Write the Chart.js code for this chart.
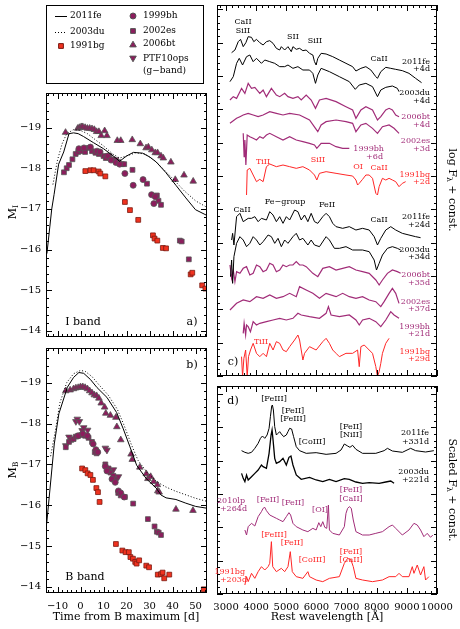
<!DOCTYPE html>
<html>
<head>
<meta charset="utf-8">
<script src="https://cdn.jsdelivr.net/npm/chart.js@4/dist/chart.umd.min.js"></script>
<style>
  body { margin: 0; background: #fff; }
  canvas { position: absolute; left: 0; top: 0; }
</style>
</head>
<body>
<canvas id="panelA" width="460" height="629"></canvas>
<canvas id="panelB" width="460" height="629"></canvas>
<canvas id="panelC" width="460" height="629"></canvas>
<canvas id="panelD" width="460" height="629"></canvas>
<script>
// ---------- light curves: [days from B max, absolute mag] ----------
const fe11_I = [[-14.6,-15.9],[-12.5,-17.0],[-11.5,-17.35],[-9.5,-18.1],[-7.3,-18.4],[-5,-18.85],[-3,-18.87],[-1,-18.85],[1.3,-18.78],[5.6,-18.63],[10,-18.48],[14.3,-18.3],[17,-18.17],[20,-18.3],[23,-18.39],[27,-18.37],[30,-18.28],[33,-18.15],[37,-17.9],[41.5,-17.58],[45.8,-17.27],[50,-16.98],[54.6,-16.85]];
const du03_I = [[-12,-17.6],[-10,-18.2],[-8,-18.6],[-6,-18.85],[-3,-18.95],[0,-18.93],[3,-18.85],[6,-18.72],[10,-18.55],[14,-18.35],[17,-18.25],[20,-18.3],[24,-18.38],[28,-18.35],[32,-18.2],[36,-17.98],[40,-17.75],[45,-17.45],[50,-17.2],[54.6,-17.05]];
const bg91_I = [[2.1,-17.93],[4.3,-17.95],[5.7,-17.95],[7.9,-17.92],[8.6,-17.87],[10.8,-17.8],[19.3,-17.17],[21.5,-16.97],[25.1,-16.73],[31.5,-16.35],[32.2,-16.27],[33.4,-16.22],[35.8,-16.04],[37.2,-16.03],[47.9,-15.39],[48.6,-15.43],[52.9,-15.12],[54.3,-15.04]];
const bh99_I = [[-0.7,-18.48],[1.5,-18.5],[4.3,-18.52],[7.2,-18.42],[8.5,-18.4],[11.8,-18.3],[13.3,-18.2],[15.4,-18.14],[17,-18.1],[19.3,-17.87],[22.9,-17.58],[27.2,-17.72],[30.9,-17.35],[31.9,-17.13],[32.5,-17.3]];
const es02_I = [[-7.2,-17.9],[-6,-18.0],[-5,-18.08],[-3.5,-18.22],[-2.1,-18.35],[-1,-18.4],[0.5,-18.42],[2,-18.4],[3.6,-18.5],[5,-18.42],[6.5,-18.38],[8,-18.35],[10,-18.3],[11,-18.25],[12.5,-18.3],[14,-18.22],[15.5,-18.2],[16.5,-18.15],[18,-18.1],[19,-18.1],[22.6,-17.96],[28.9,-17.62],[33.2,-17.33],[33.9,-17.2],[35,-17.1],[43.2,-16.22],[44,-16.2],[47.1,-15.76]];
const bt06_I = [[-6.5,-18.88],[-1.2,-18.98],[-0.5,-19.0],[0.3,-19.02],[1,-19.02],[2,-19.0],[3,-18.98],[4,-18.98],[5,-18.97],[6,-18.95],[7,-18.9],[8,-18.9],[9,-18.8],[10.5,-18.92],[11.5,-18.8],[16,-18.68],[17.5,-18.68],[22.5,-18.7],[26,-18.6],[28.5,-18.5],[29.5,-18.52],[31,-18.45],[32.5,-18.38],[33.5,-18.38],[35,-18.3],[36,-18.25],[39.3,-18.15],[41.2,-17.72],[45,-17.83],[49,-17.68]];

const fe11_B = [[-14.7,-15.55],[-11.4,-17.5],[-9.4,-18.24],[-5.7,-18.89],[-3,-19.13],[-0.7,-19.25],[1.4,-19.23],[4.3,-19.08],[7.2,-18.88],[11.5,-18.64],[15.7,-18.27],[18.6,-17.87],[21.5,-17.43],[24.4,-16.98],[28.6,-16.65],[32.9,-16.42],[35,-16.25],[37.2,-16.18],[41.5,-16.14],[45.8,-16.05],[50.1,-15.97],[54.6,-15.93]];
const du03_B = [[-13,-17.2],[-11,-17.8],[-9,-18.5],[-6,-19.0],[-3,-19.22],[0,-19.3],[2,-19.28],[5,-19.15],[8,-18.95],[12,-18.7],[16,-18.35],[19,-17.95],[22,-17.5],[25,-17.1],[29,-16.8],[33,-16.58],[37,-16.45],[41,-16.35],[46,-16.25],[50,-16.17],[54.6,-16.1]];
const bg91_B = [[0.7,-16.9],[2.1,-16.86],[3.1,-16.78],[4.3,-16.74],[5.4,-16.62],[6.9,-16.42],[7.6,-16.32],[8.3,-16.08],[15.4,-15.05],[18.2,-14.89],[19.6,-14.85],[21,-14.85],[21.7,-14.73],[22.8,-14.69],[23.8,-14.61],[24.4,-14.57],[25.5,-14.65],[28.6,-14.52],[29.8,-14.48],[33.6,-14.3],[35,-14.31],[35.7,-14.35],[36.4,-14.21],[38.6,-14.3],[53.6,-13.94]];
const bh99_B = [[-1,-17.7],[1,-17.75],[3,-17.7],[5.5,-17.5],[6.7,-17.36],[7.5,-17.3],[10.8,-16.95],[11.5,-16.84],[13.7,-16.64],[15.1,-16.56],[16.5,-16.35],[17.5,-16.3],[19,-16.2]];
const es02_B = [[-6.4,-17.42],[-5,-17.55],[-4,-17.6],[-3,-17.62],[-2,-17.68],[-1,-17.7],[0.5,-17.72],[2,-17.7],[3.5,-17.65],[5,-17.55],[6.2,-17.3],[7,-17.27],[10.8,-17.0],[12.2,-16.9],[13,-16.8],[14.3,-16.72],[16.4,-16.3],[17.5,-16.24],[19.3,-16.2],[22.9,-16.04],[29.3,-15.66],[32.2,-15.48],[33.2,-15.35],[34,-15.33],[35,-15.27]];
const bt06_B = [[-6.4,-18.8],[-4.5,-18.82],[-3,-18.85],[-2,-18.87],[-1,-18.88],[0,-18.9],[1,-18.9],[2,-18.88],[3,-18.85],[4,-18.8],[5,-18.75],[6,-18.7],[7,-18.68],[8,-18.62],[9,-18.5],[10.5,-18.4],[11,-18.25],[13,-18.2],[15.4,-18.15],[15.8,-17.92],[17.5,-17.6],[22,-17.25],[22.5,-17.12],[25.8,-16.93],[28.6,-16.77],[29.3,-16.65],[30.5,-16.7],[31.8,-16.58],[33.4,-16.5],[33.6,-16.35],[34.2,-16.32],[41.5,-15.9],[48.9,-15.87]];
const ops10_g = [[-6.4,-17.46],[-5,-17.67],[-2,-18.05],[-1.4,-18.11],[-0.5,-18.05],[0.7,-17.83],[1.4,-17.9],[3.1,-17.84],[10.8,-17.4],[11.5,-17.35],[14.3,-16.87],[15.7,-16.65],[16.5,-16.7]];

// ---------- spectra: [rest wavelength (A), log flux (arbitrary)] ----------
const s_fe11_4 = [[3185,42],[3295,50],[3405,75],[3482,82],[3570,60],[3658,72],[3735,90],[3845,88],[3922,75],[4010,82],[4120,72],[4230,65],[4340,75],[4450,78],[4560,70],[4670,55],[4780,50],[4835,60],[4945,50],[5055,60],[5165,45],[5220,60],[5330,52],[5440,55],[5550,48],[5660,50],[5770,40],[5880,35],[5935,15],[5990,5],[6045,25],[6155,40],[6320,38],[6540,30],[6760,20],[6980,10],[7200,0],[7310,-13],[7475,-5],[7640,0],[7805,-10],[7970,-30],[8025,-35],[8135,-15],[8300,-2],[8465,-5],[8630,-8],[8850,-12],[9070,-20],[9290,-35],[9488,-48]];
const s_du03_4 = [[3130,25],[3240,40],[3350,80],[3438,95],[3548,75],[3680,100],[3790,105],[3900,85],[4010,95],[4175,80],[4285,90],[4450,85],[4615,80],[4780,70],[4945,70],[5055,75],[5220,65],[5385,70],[5550,60],[5770,60],[5880,50],[5968,20],[6045,45],[6155,65],[6430,55],[6760,40],[7090,25],[7288,2],[7420,15],[7640,20],[7860,10],[8025,-20],[8135,0],[8300,8],[8520,12],[8685,5],[8740,-5]];
const s_bt06_4 = [[3130,30],[3240,40],[3350,35],[3460,55],[3515,65],[3625,50],[3735,80],[3845,65],[3955,68],[4120,50],[4230,60],[4340,40],[4505,65],[4670,45],[4780,40],[4945,50],[5055,40],[5220,35],[5385,40],[5495,30],[5660,45],[5825,30],[5968,5],[6100,30],[6320,35],[6650,25],[6980,10],[7200,0],[7310,-25],[7475,0],[7640,10],[7860,0],[8025,-30],[8135,-20],[8300,0],[8410,5],[8520,0],[8630,-15],[8740,-20]];
const s_es02_3 = [[3130,20],[3350,35],[3460,40],[3570,45],[3735,50],[3900,45],[4065,40],[4230,45],[4450,55],[4670,50],[4890,45],[5110,50],[5440,45],[5770,30],[5968,5],[6045,-5],[6155,15],[6320,25],[6650,30],[6980,25],[7200,20],[7310,-5],[7475,15],[7640,20],[7860,5],[8025,-10],[8190,10],[8410,15],[8575,5],[8740,-10]];
const s_bh99_6 = [[3570,30],[3600,-40],[3625,10],[3658,-65],[3702,25],[3790,20],[3900,15],[4010,10],[4120,20],[4230,15],[4340,25],[4450,30],[4670,20],[4890,10],[5110,20],[5330,10],[5550,5],[5770,0],[5935,-5],[6012,-15],[6155,0],[6430,0],[6650,-10],[6870,-15],[7090,-15]];
const s_bg91_2 = [[3680,-45],[3702,30],[3790,35],[3900,15],[4010,-5],[4120,2],[4230,-5],[4340,40],[4450,48],[4670,40],[4890,45],[5110,40],[5330,35],[5550,40],[5770,30],[5935,15],[6012,0],[6100,20],[6320,25],[6650,20],[6980,15],[7200,12],[7310,0],[7365,-15],[7420,-10],[7530,2],[7640,15],[7750,15],[7860,5],[7970,-40],[8025,-45],[8080,-20],[8190,5],[8300,0],[8410,5],[8520,0],[8630,-5],[8740,-20],[8850,-10],[8960,-5]];
const s_fe11_24 = [[3185,-30],[3218,-10],[3262,-45],[3350,40],[3460,50],[3570,25],[3735,35],[3845,35],[3955,40],[4065,25],[4175,35],[4340,30],[4450,55],[4560,45],[4670,25],[4780,40],[4890,20],[5000,40],[5110,30],[5275,60],[5385,55],[5495,30],[5605,45],[5715,25],[5825,50],[5935,25],[6045,20],[6210,40],[6320,50],[6430,40],[6540,20],[6650,10],[6870,5],[7090,10],[7310,0],[7530,5],[7750,0],[7915,-20],[8025,-45],[8135,-25],[8300,0],[8465,10],[8630,0],[8850,-10],[9070,-15],[9290,-20],[9455,-23]];
const s_du03_34 = [[3150,-80],[3185,-30],[3218,-100],[3262,-20],[3350,20],[3460,40],[3570,30],[3680,10],[3790,20],[3900,40],[4010,30],[4120,15],[4230,25],[4395,45],[4505,40],[4615,20],[4725,35],[4835,10],[4945,30],[5055,20],[5220,40],[5330,50],[5440,30],[5550,35],[5715,15],[5825,30],[5935,15],[6100,10],[6320,40],[6430,30],[6595,5],[6760,5],[6980,10],[7200,0],[7530,0],[7750,-5],[7915,-30],[7992,-60],[8080,-40],[8190,-15],[8355,5],[8520,10],[8685,5],[8795,0]];
const s_bt06_35 = [[3130,25],[3185,-15],[3240,10],[3295,-25],[3350,5],[3460,0],[3570,15],[3680,20],[3790,-5],[3900,0],[4010,25],[4120,20],[4230,5],[4340,10],[4450,30],[4560,25],[4670,5],[4780,10],[4890,25],[5000,20],[5110,25],[5220,25],[5330,35],[5440,25],[5550,25],[5660,20],[5880,0],[6045,-10],[6210,15],[6430,20],[6650,10],[6870,15],[7090,20],[7310,10],[7530,5],[7750,0],[7970,-20],[8080,-35],[8190,-20],[8355,0],[8520,10],[8685,5],[8795,0]];
const s_es02_37 = [[3130,-30],[3350,-10],[3570,0],[3790,-5],[4010,10],[4230,5],[4450,15],[4670,5],[4890,10],[5110,20],[5330,10],[5440,40],[5660,30],[5880,20],[6100,5],[6320,20],[6650,10],[6870,20],[7090,10],[7310,5],[7530,10],[7750,0],[7970,-5],[8135,-20],[8245,-5],[8410,20],[8520,35],[8630,20],[8740,-10]];
const s_bh99_21 = [[3570,-40],[3600,-10],[3650,-45],[3680,-15],[3735,-20],[3810,-35],[3900,-5],[4010,-15],[4120,-10],[4340,-5],[4560,0],[4780,5],[5000,0],[5220,5],[5385,20],[5495,15],[5770,10],[6100,5],[6320,20],[6397,40],[6485,15],[6760,10],[7090,15],[7310,0],[7420,-15],[7530,0],[7750,5],[7970,-5],[8135,-20],[8300,0],[8465,25],[8575,15],[8740,5]];
const s_bg91_29 = [[3515,-20],[3548,-80],[3592,-25],[3650,0],[3702,-80],[3746,-20],[3812,0],[3900,20],[4010,-10],[4120,-20],[4230,-10],[4340,-20],[4450,20],[4560,0],[4670,25],[4780,20],[4890,0],[5000,-5],[5110,10],[5275,30],[5385,45],[5440,30],[5550,-30],[5605,-10],[5770,10],[5990,0],[6210,25],[6320,35],[6430,20],[6540,0],[6650,-10],[6760,-20],[6980,-10],[7200,-10],[7365,0],[7420,-50],[7475,10],[7585,15],[7750,0],[7860,-10],[7970,-50],[8025,-80],[8080,-65],[8135,-40],[8190,-10],[8300,20],[8410,35]];

// nebular spectra: [rest wavelength (A), scaled flux]
const n_fe11_331 = [[3515,8],[3625,3],[3735,0],[3845,3],[3955,15],[4065,30],[4142,45],[4208,52],[4285,45],[4362,55],[4428,75],[4472,110],[4516,142],[4538,145],[4571,130],[4615,80],[4670,55],[4725,60],[4780,65],[4835,58],[4912,50],[5000,55],[5055,65],[5110,75],[5176,73],[5242,50],[5330,20],[5440,8],[5660,0],[5990,2],[6320,-3],[6650,0],[6815,10],[6925,28],[7035,22],[7112,18],[7200,24],[7310,12],[7530,0],[7970,0],[8245,8],[8355,15],[8520,7],[8850,3],[9125,15],[9290,8],[9620,4],[9895,8]];
const n_du03_221 = [[3515,20],[3570,5],[3625,-5],[3680,15],[3735,0],[3845,10],[3955,20],[4065,30],[4175,45],[4230,40],[4340,35],[4428,80],[4494,135],[4527,150],[4560,120],[4615,65],[4670,50],[4780,55],[4890,65],[5000,45],[5088,68],[5154,72],[5220,45],[5330,15],[5495,2],[5770,8],[5990,0],[6210,-5],[6430,2],[6650,-5],[6925,4],[7090,2],[7310,-6],[7530,-10],[7750,-8],[8080,-10],[8300,-6],[8465,-3],[8575,-10]];
const n_lp10_264 = [[3625,0],[3680,-15],[3735,10],[3845,20],[3955,12],[4065,40],[4175,55],[4230,65],[4285,68],[4340,58],[4450,45],[4560,40],[4670,35],[4780,30],[4890,25],[5000,40],[5088,52],[5143,45],[5220,20],[5330,10],[5550,0],[5715,-5],[5880,5],[5990,0],[6078,22],[6144,10],[6210,25],[6276,8],[6342,5],[6397,75],[6430,0],[6540,-10],[6760,-15],[6925,10],[6980,50],[7035,65],[7090,70],[7156,65],[7222,30],[7310,-5],[7530,-15],[7750,-15],[7970,-10],[8190,-5],[8410,10],[8520,15],[8630,5],[8850,-15],[9070,0],[9235,20],[9345,15],[9455,0],[9565,-20],[9675,-10],[9785,-22],[9862,-15]];
const n_bg91_203 = [[3625,-25],[3680,0],[3735,-15],[3845,10],[3955,-5],[4065,15],[4175,30],[4285,20],[4395,30],[4450,40],[4505,105],[4549,30],[4670,15],[4835,25],[4945,15],[5055,30],[5132,75],[5198,15],[5330,0],[5550,-5],[5715,15],[5770,0],[5990,-10],[6210,-15],[6430,-5],[6760,0],[6925,40],[7035,55],[7145,50],[7222,30],[7310,-5],[7530,-10],[7860,-15],[8190,-10],[8410,0],[8630,0],[8740,10],[8850,0],[9070,0],[9180,30],[9235,10],[9345,35],[9455,5],[9565,30],[9620,-10],[9730,0]];

// vertical constants added to each spectrum (same order as drawn, top to bottom)
const constC = [928, 858, 798, 738, 698, 588, 438, 378, 308, 228, 168, 78];
const constD = [422, 342, 192, 52];

// ---------- styling ----------
const WORD = '"DejaVu Serif", serif';
const BLACK = '#000000', PURPLE = '#a12c78', RED = '#ff2626';
const M_PURPLE = '#8c1d5d', M_RED = '#f0321f';

const pts = arr => arr.map(([x, y]) => ({ x, y }));
const shifted = (arr, c) => arr.map(([x, y]) => ({ x, y: y + c }));

function curve(data, dash) {
  return { data: pts(data), showLine: true, borderColor: BLACK, borderWidth: 1,
           borderDash: dash || [], pointRadius: 0, tension: 0, order: 0 };
}
function marks(data, style, fill, edge, r, rot) {
  return { data: pts(data), showLine: false, pointStyle: style, pointRadius: r,
           rotation: rot || 0, backgroundColor: fill, borderColor: edge, borderWidth: 0.8, order: 1 };
}
function spec(data, c, color, w) {
  return { data: shifted(data, c), showLine: true, borderColor: color, borderWidth: w || 1,
           pointRadius: 0, tension: 0 };
}

function steps(min, max, step) {
  const out = [];
  for (let i = Math.ceil(min / step - 1e-9); i * step <= max + 1e-9; i++) out.push(+(i * step).toFixed(6));
  return out;
}
const isMult = (v, m) => Math.abs(v / m - Math.round(v / m)) < 1e-6;
const fmt = v => (v < 0 ? '\u2212' + (-v) : String(v));

function drawRich(ctx, parts, x, y, size, rot, align) {
  ctx.save();
  ctx.translate(x, y);
  ctx.rotate(rot || 0);
  let total = 0;
  const ws = parts.map(([t, sub]) => {
    ctx.font = (sub ? size * 0.7 : size) + 'px ' + WORD;
    const w = ctx.measureText(t).width; total += w; return w;
  });
  let cx = align === 'left' ? 0 : align === 'right' ? -total : -total / 2;
  ctx.textBaseline = 'middle';
  ctx.textAlign = 'left';
  parts.forEach(([t, sub], i) => {
    ctx.font = (sub ? size * 0.7 : size) + 'px ' + WORD;
    ctx.fillText(t, cx, sub ? size * 0.3 : 0);
    cx += ws[i];
  });
  ctx.restore();
}

function makeFrame(f) {
  return {
    id: 'frame',
    afterDatasetsDraw(chart) {
      const { ctx, chartArea: a } = chart;
      const x = chart.scales.x, y = chart.scales.y;
      ctx.save();
      ctx.strokeStyle = BLACK;
      ctx.lineWidth = 1;
      ctx.strokeRect(a.left + 0.5, a.top + 0.5, a.right - a.left - 1, a.bottom - a.top - 1);
      ctx.beginPath();
      steps(x.min, x.max, f.xMinor).forEach(v => {
        const p = Math.round(x.getPixelForValue(v)) + 0.5;
        const L = isMult(v, f.xMajor) ? 6 : 3;
        ctx.moveTo(p, a.bottom); ctx.lineTo(p, a.bottom - L);
        ctx.moveTo(p, a.top); ctx.lineTo(p, a.top + L);
      });
      steps(y.min, y.max, f.yMinor).forEach(v => {
        const p = Math.round(y.getPixelForValue(v)) + 0.5;
        const L = isMult(v, f.yMajor) ? 6 : 3;
        ctx.moveTo(a.left, p); ctx.lineTo(a.left + L, p);
        ctx.moveTo(a.right, p); ctx.lineTo(a.right - L, p);
      });
      ctx.stroke();
      ctx.fillStyle = BLACK;
      ctx.font = '10px ' + WORD;
      if (f.xLabels) {
        ctx.textAlign = 'center'; ctx.textBaseline = 'middle';
        steps(x.min, x.max, f.xMajor).forEach(v => ctx.fillText(fmt(v), x.getPixelForValue(v), a.bottom + 13));
      }
      if (f.yLabels) {
        ctx.textAlign = 'right'; ctx.textBaseline = 'middle';
        steps(y.min, y.max, f.yMajor).forEach(v => ctx.fillText(fmt(v), a.left - 5, y.getPixelForValue(v)));
      }
      ctx.restore();
    }
  };
}

// notes: [text, x, y, color, align, size]
function makeNotes(notes, extra) {
  return {
    id: 'notes',
    afterDraw(chart) {
      const ctx = chart.ctx;
      ctx.save();
      ctx.textBaseline = 'middle';
      notes.forEach(([t, x, y, c, al, s]) => {
        ctx.fillStyle = c || BLACK;
        ctx.textAlign = al || 'center';
        ctx.font = (s || 8) + 'px ' + WORD;
        ctx.fillText(t, x, y);
      });
      ctx.restore();
      if (extra) extra(ctx);
    }
  };
}

function options(pad, xr, yr, rev) {
  return {
    responsive: false, animation: false, events: [],
    layout: { padding: pad },
    scales: {
      x: { type: 'linear', display: false, min: xr[0], max: xr[1] },
      y: { type: 'linear', display: false, min: yr[0], max: yr[1], reverse: !!rev }
    },
    plugins: { legend: { display: false }, tooltip: { enabled: false } }
  };
}

function legendBox(ctx) {
  ctx.save();
  ctx.strokeStyle = BLACK; ctx.lineWidth = 1;
  ctx.strokeRect(46.5, 5.5, 157, 78);
  ctx.beginPath(); ctx.moveTo(55, 16.5); ctx.lineTo(67, 16.5); ctx.stroke();
  ctx.setLineDash([1, 2]);
  ctx.beginPath(); ctx.moveTo(55, 32.5); ctx.lineTo(67, 32.5); ctx.stroke();
  ctx.setLineDash([]);
  const mk = (style, x, y, r, rot, fill, edge) => {
    ctx.fillStyle = fill; ctx.strokeStyle = edge;
    Chart.helpers.drawPoint(ctx, { pointStyle: style, radius: r, rotation: rot, borderWidth: 0.8 }, x, y);
  };
  mk('rect', 61, 46, 3.4, 0, M_RED, '#7a1a12');
  mk('circle', 133, 16, 3, 0, M_PURPLE, '#555');
  mk('rect', 133, 31, 3.4, 0, M_PURPLE, '#555');
  mk('triangle', 133, 45, 3.8, 0, M_PURPLE, '#555');
  mk('triangle', 133, 58, 3.8, 180, M_PURPLE, '#555');
  ctx.fillStyle = BLACK; ctx.textAlign = 'left'; ctx.textBaseline = 'middle';
  ctx.font = '9px ' + WORD;
  [['2011fe', 70, 16], ['2003du', 70, 32], ['1991bg', 70, 46], ['1999bh', 143, 16],
   ['2002es', 143, 31], ['2006bt', 143, 44], ['PTF10ops', 143, 59], ['(g\u2212band)', 143, 71]]
    .forEach(([t, x, y]) => ctx.fillText(t, x, y));
  ctx.restore();
  drawRich(ctx, [['M'], ['I', true]], 13, 212, 11, -Math.PI / 2);
}

// ---------- panel a: I band ----------
new Chart(document.getElementById('panelA'), {
  type: 'scatter',
  data: { datasets: [
    curve(fe11_I), curve(du03_I, [1, 2]),
    marks(bg91_I, 'rect', M_RED, '#7a1a12', 3.4),
    marks(bh99_I, 'circle', M_PURPLE, '#555', 3),
    marks(es02_I, 'rect', M_PURPLE, '#555', 3.4),
    marks(bt06_I, 'triangle', M_PURPLE, '#555', 3.8)
  ] },
  options: options({ left: 46, top: 93, right: 253, bottom: 292 }, [-15, 55], [-19.85, -13.85], true),
  plugins: [makeFrame({ xMajor: 10, xMinor: 2, yMajor: 1, yMinor: 0.2, yLabels: true }),
            makeNotes([['I band', 83, 322, BLACK, 'center', 11], ['a)', 192, 322, BLACK, 'center', 11]], legendBox)]
});

// ---------- panel b: B band ----------
new Chart(document.getElementById('panelB'), {
  type: 'scatter',
  data: { datasets: [
    curve(fe11_B), curve(du03_B, [1, 2]),
    marks(bg91_B, 'rect', M_RED, '#7a1a12', 3.4),
    marks(bh99_B, 'circle', M_PURPLE, '#555', 3),
    marks(es02_B, 'rect', M_PURPLE, '#555', 3.4),
    marks(bt06_B, 'triangle', M_PURPLE, '#555', 3.8),
    marks(ops10_g, 'triangle', M_PURPLE, '#555', 3.8, 180)
  ] },
  options: options({ left: 46, top: 348, right: 253, bottom: 36 }, [-15, 55], [-19.85, -13.85], true),
  plugins: [makeFrame({ xMajor: 10, xMinor: 2, yMajor: 1, yMinor: 0.2, xLabels: true, yLabels: true }),
            makeNotes([['B band', 85, 577, BLACK, 'center', 11], ['b)', 192, 365, BLACK, 'center', 11],
                       ['Time from B maximum [d]', 126, 617, BLACK, 'center', 11]],
                      ctx => drawRich(ctx, [['M'], ['B', true]], 13, 470, 11, -Math.PI / 2))]
});

// ---------- panel c: spectra near maximum and ~1 month ----------
const specC = [s_fe11_4, s_du03_4, s_bt06_4, s_es02_3, s_bh99_6, s_bg91_2,
               s_fe11_24, s_du03_34, s_bt06_35, s_es02_37, s_bh99_21, s_bg91_29];
const colC = [BLACK, BLACK, PURPLE, PURPLE, PURPLE, RED, BLACK, BLACK, PURPLE, PURPLE, PURPLE, RED];
new Chart(document.getElementById('panelC'), {
  type: 'scatter',
  data: { datasets: specC.map((s, i) => spec(s, constC[i], colC[i], colC[i] === PURPLE ? 1.2 : 1)) },
  options: options({ left: 217, top: 5, right: 23, bottom: 253 }, [2700, 10000], [0, 1113]),
  plugins: [makeFrame({ xMajor: 1000, xMinor: 200, yMajor: 100, yMinor: 20 }),
            makeNotes([
              ['CaII', 243, 22], ['SiII', 243, 31], ['SII', 293, 37], ['SiII', 315, 41], ['CaII', 379, 59],
              ['2011fe', 430, 62, BLACK, 'right'], ['+4d', 430, 69, BLACK, 'right'],
              ['2003du', 430, 93, BLACK, 'right'], ['+4d', 430, 101, BLACK, 'right'],
              ['2006bt', 430, 117, PURPLE, 'right'], ['+4d', 430, 125, PURPLE, 'right'],
              ['2002es', 430, 141, PURPLE, 'right'], ['+3d', 430, 149, PURPLE, 'right'],
              ['1999bh', 384, 149, PURPLE, 'right'], ['+6d', 383, 157, PURPLE, 'right'],
              ['TiII', 263, 162, RED], ['SiII', 318, 160, RED], ['OI', 358, 167, RED], ['CaII', 379, 168, RED],
              ['1991bg', 430, 175, RED, 'right'], ['+2d', 430, 182, RED, 'right'],
              ['CaII', 242, 210], ['Fe\u2212group', 285, 202], ['FeII', 327, 205], ['CaII', 379, 220],
              ['2011fe', 430, 217, BLACK, 'right'], ['+24d', 430, 225, BLACK, 'right'],
              ['2003du', 430, 250, BLACK, 'right'], ['+34d', 430, 257, BLACK, 'right'],
              ['2006bt', 430, 275, PURPLE, 'right'], ['+35d', 430, 283, PURPLE, 'right'],
              ['2002es', 430, 302, PURPLE, 'right'], ['+37d', 430, 309, PURPLE, 'right'],
              ['1999bh', 430, 327, PURPLE, 'right'], ['+21d', 430, 334, PURPLE, 'right'],
              ['TiII', 261, 342, RED],
              ['1991bg', 430, 352, RED, 'right'], ['+29d', 430, 359, RED, 'right'],
              ['c)', 233, 362, BLACK, 'center', 11]
            ], ctx => drawRich(ctx, [['log F'], ['\u03bb', true], [' + const.']], 452, 190, 11, Math.PI / 2))]
});

// ---------- panel d: nebular spectra ----------
const specD = [n_fe11_331, n_du03_221, n_lp10_264, n_bg91_203];
const colD = [BLACK, BLACK, PURPLE, RED];
new Chart(document.getElementById('panelD'), {
  type: 'scatter',
  data: { datasets: specD.map((s, i) => spec(s, constD[i], colD[i], i === 1 ? 1.3 : 1)) },
  options: options({ left: 217, top: 386, right: 23, bottom: 35 }, [2700, 10000], [0, 624]),
  plugins: [makeFrame({ xMajor: 1000, xMinor: 200, yMajor: 100, yMinor: 20, xLabels: true }),
            makeNotes([
              ['d)', 233, 401, BLACK, 'center', 11],
              ['[FeIII]', 274, 399], ['[FeII]', 293, 411], ['[FeIII]', 293, 419], ['[CoIII]', 312, 442],
              ['[FeII]', 351, 427], ['[NiII]', 351, 435],
              ['2011fe', 429, 433, BLACK, 'right'], ['+331d', 429, 442, BLACK, 'right'],
              ['2003du', 429, 472, BLACK, 'right'], ['+221d', 429, 480, BLACK, 'right'],
              ['[FeII]', 268, 500, PURPLE], ['[FeII]', 293, 503, PURPLE], ['[OI]', 320, 510, PURPLE],
              ['[FeII]', 351, 490, PURPLE], ['[CaII]', 351, 499, PURPLE],
              ['2010lp', 245, 501, PURPLE, 'right'], ['+264d', 247, 509, PURPLE, 'right'],
              ['[FeIII]', 274, 535, RED], ['[FeII]', 292, 543, RED], ['[CoIII]', 312, 560, RED],
              ['[FeII]', 351, 552, RED], ['[CaII]', 351, 560, RED],
              ['1991bg', 245, 572, RED, 'right'], ['+203d', 247, 580, RED, 'right'],
              ['Rest wavelength [\u00c5]', 327, 617, BLACK, 'center', 11]
            ], ctx => drawRich(ctx, [['Scaled F'], ['\u03bb', true], [' + const.']], 452, 490, 11, Math.PI / 2))]
});
</script>
</body>
</html>
